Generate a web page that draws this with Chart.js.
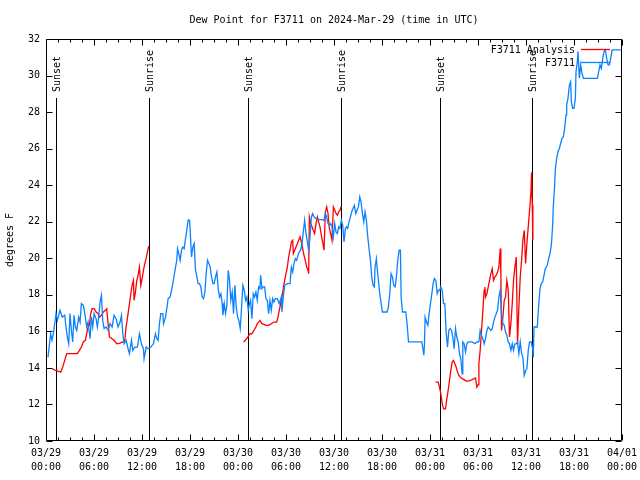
<!DOCTYPE html>
<html>
<head>
<meta charset="utf-8">
<script src="https://cdn.jsdelivr.net/npm/chart.js@4"></script>
<style>
body { margin: 0; background: #fff; }
</style>
</head>
<body>
<canvas id="myChart" width="640" height="480"></canvas>
<script>
// x values are hours since 2024-03-29 00:00 UTC
const tickDates = ['03/29', '03/29', '03/29', '03/29', '03/30', '03/30', '03/30', '03/30',
                   '03/31', '03/31', '03/31', '03/31', '04/01'];
const tickTimes = ['00:00', '06:00', '12:00', '18:00', '00:00', '06:00', '12:00', '18:00',
                   '00:00', '06:00', '12:00', '18:00', '00:00'];

const sunHours = [1.2, 12.9, 25.2, 36.85, 49.2, 60.8];
const sunLabels = ['Sunset', 'Sunrise', 'Sunset', 'Sunrise', 'Sunset', 'Sunrise'];

// F3711 observations
const obsHours = [
    0.25, 0.58, 0.75, 0.92, 1.25, 1.42, 1.75, 2.04, 2.34, 2.50, 2.67, 2.84, 3.00, 3.17, 3.34, 3.50,
    3.67, 3.84, 4.09, 4.26, 4.42, 4.67, 4.92, 5.09, 5.26, 5.51, 5.67, 5.84, 6.01, 6.26, 6.42, 6.59,
    6.76, 6.93, 7.09, 7.26, 7.51, 7.76, 8.01, 8.26, 8.51, 8.76, 9.01, 9.26, 9.43, 9.60, 9.76, 10.01,
    10.26, 10.43, 10.68, 10.85, 11.10, 11.43, 11.68, 11.93, 12.18, 12.26, 12.52, 12.77, 13.10, 13.43,
    13.68, 13.85, 14.02, 14.18, 14.35, 14.60, 14.69, 14.94, 15.10, 15.27, 15.52, 15.69, 15.85, 16.02,
    16.19, 16.35, 16.44, 16.60, 16.77, 16.94, 17.10, 17.27, 17.44, 17.60, 17.77, 17.94, 18.02, 18.19,
    18.36, 18.52, 18.69, 18.86, 19.02, 19.19, 19.36, 19.52, 19.69, 19.86, 20.02, 20.19, 20.36, 20.52,
    20.69, 20.86, 21.02, 21.19, 21.36, 21.52, 21.69, 21.86, 22.02, 22.11, 22.28, 22.44, 22.61, 22.78,
    22.94, 23.11, 23.28, 23.44, 23.61, 23.78, 23.95, 24.11, 24.28, 24.45, 24.61, 24.78, 24.95, 25.11,
    25.28, 25.45, 25.57, 25.74, 25.91, 26.08, 26.24, 26.41, 26.58, 26.74, 26.83, 26.99, 27.16, 27.33,
    27.49, 27.66, 27.83, 27.99, 28.16, 28.33, 28.49, 28.66, 28.91, 29.16, 29.41, 29.49, 29.66, 29.83,
    30.17, 30.50, 30.67, 30.83, 31.00, 31.17, 31.33, 31.50, 31.66, 31.83, 32.00, 32.16, 32.33, 32.50,
    32.67, 32.83, 33.00, 33.17, 33.33, 33.50, 33.75, 34.08, 34.50, 34.75, 34.92, 35.08, 35.25, 35.42,
    35.58, 35.75, 35.92, 36.09, 36.25, 36.42, 36.59, 36.75, 36.92, 37.09, 37.25, 37.42, 37.55, 37.71,
    37.88, 38.05, 38.21, 38.38, 38.55, 38.72, 38.88, 39.05, 39.22, 39.38, 39.55, 39.72, 39.88, 40.05,
    40.22, 40.38, 40.55, 40.72, 40.88, 41.05, 41.13, 41.30, 41.38, 41.55, 41.72, 41.89, 42.05, 42.63,
    42.80, 42.97, 43.13, 43.30, 43.47, 43.64, 43.80, 43.97, 44.14, 44.30, 44.39, 44.56, 44.97, 45.14,
    45.31, 46.98, 47.14, 47.23, 47.31, 47.39, 47.56, 47.73, 47.89, 48.06, 48.23, 48.39, 48.56, 48.73,
    48.90, 49.06, 49.23, 49.35, 49.52, 49.69, 49.85, 50.02, 50.19, 50.35, 50.52, 50.69, 50.85, 51.02,
    51.19, 51.35, 51.52, 51.69, 51.85, 52.02, 52.10, 52.27, 52.44, 52.60, 52.77, 53.27, 53.61, 53.86,
    54.11, 54.27, 54.44, 54.61, 54.77, 54.94, 55.11, 55.28, 55.44, 55.61, 55.78, 55.94, 56.11, 56.28,
    56.44, 56.61, 56.78, 56.94, 57.11, 57.28, 57.44, 57.61, 57.78, 57.94, 58.11, 58.28, 58.44, 58.61,
    58.78, 58.94, 59.11, 59.28, 59.45, 59.61, 59.78, 59.95, 60.11, 60.28, 60.45, 60.65, 60.83, 60.91,
    61.00, 61.41, 61.58, 61.75, 61.91, 62.08, 62.25, 62.41, 62.66, 62.83, 63.00, 63.17, 63.33, 63.42,
    63.58, 63.67, 63.83, 64.00, 64.17, 64.33, 64.50, 64.67, 64.83, 65.00, 65.08, 65.25, 65.42, 65.58,
    65.67, 65.83, 66.00, 66.17, 66.25, 66.42, 66.50, 66.67, 66.83, 67.00, 67.17, 68.92, 69.09, 69.25,
    69.42, 69.59, 69.76, 69.92, 70.09, 70.26, 70.43, 70.59, 70.76, 71.84
];
const obsValues = [
    14.59, 15.87, 15.51, 15.87, 16.97, 16.60, 17.15, 16.78, 16.88, 16.24, 15.69, 15.32, 16.97, 16.05, 15.42, 16.88,
    16.24, 16.05, 16.78, 16.51, 17.52, 17.42, 16.78, 16.24, 16.51, 15.60, 16.78, 16.24, 16.97, 16.69, 16.24, 16.78,
    17.61, 17.97, 16.60, 16.15, 16.24, 16.05, 16.42, 16.24, 16.88, 16.69, 16.24, 16.51, 16.88, 15.87, 15.32, 15.51,
    15.05, 14.78, 15.51, 14.96, 15.14, 15.14, 15.87, 15.32, 15.05, 14.50, 15.14, 15.05, 15.14, 15.32,
    15.87, 15.60, 15.51, 16.42, 16.97, 16.97, 16.42, 16.78, 17.24, 17.79, 17.88, 18.25, 18.61, 19.07,
    19.52, 19.89, 20.53, 20.26, 19.89, 20.44, 20.62, 20.53, 21.08, 21.53, 22.08, 22.08, 21.53, 20.07,
    20.62, 20.80, 19.34, 18.98, 18.61, 18.61, 18.43, 17.88, 17.79, 18.15, 19.16, 19.89, 19.71, 19.52,
    18.98, 18.61, 18.61, 18.98, 19.25, 18.34, 17.88, 18.06, 17.52, 16.88, 17.52, 16.97, 17.42, 19.34,
    18.79, 17.70, 18.15, 16.97, 18.52, 17.33, 16.78, 16.60, 16.15, 17.33, 18.52, 18.25, 17.70, 17.88,
    17.15, 17.52, 17.70, 16.69, 18.06, 17.88, 18.15, 17.70, 18.43, 18.34, 19.07, 18.34, 18.43, 18.43,
    17.79, 17.70, 16.97, 17.70, 17.15, 17.79, 17.61, 17.79, 17.79, 17.52, 17.88, 17.06, 17.88, 18.52,
    18.61, 18.61, 19.52, 19.25, 19.71, 19.98, 19.89, 20.16, 20.35, 20.44, 20.80, 21.44, 22.08, 21.35,
    20.89, 20.44, 21.17, 22.26, 22.45, 22.26, 22.17, 22.12, 22.12, 22.08, 22.45, 22.26, 21.90, 21.81,
    21.90, 21.72, 21.17, 21.90, 21.44, 21.35, 21.72, 21.63, 22.08, 21.81, 20.89, 21.63, 21.72, 21.63,
    21.99, 22.26, 22.54, 22.72, 22.90, 22.45, 22.63, 22.81, 23.36, 23.09, 22.45, 21.99, 22.54, 22.08,
    21.17, 20.53, 19.89, 18.98, 18.52, 18.43, 19.52, 19.98, 19.52, 18.79, 18.06, 17.52, 17.06, 17.06,
    17.33, 18.06, 19.16, 18.98, 18.52, 18.43, 18.98, 19.89, 20.44, 20.44, 17.88, 17.06, 17.06, 16.42,
    15.42, 15.42, 14.98, 14.70, 15.32, 16.78, 16.51, 16.33, 16.97, 17.52, 18.06, 18.61, 18.89, 18.79,
    18.06, 18.25, 18.25, 18.43, 18.25, 17.52, 17.52, 15.96, 15.14, 16.05, 16.15, 16.05, 15.69, 15.05,
    16.15, 15.69, 15.42, 14.78, 14.50, 13.68, 15.42, 15.32, 14.87, 15.32, 15.42, 15.42, 15.32, 15.42,
    15.42, 16.05, 15.78, 15.60, 15.32, 15.60, 16.05, 16.24, 16.15, 16.05, 16.15, 16.51, 16.78, 16.97,
    17.15, 17.88, 18.25, 16.97, 16.42, 16.33, 15.96, 15.78, 15.42, 15.32, 14.96, 15.32, 14.96, 15.32,
    15.32, 15.42, 14.78, 15.42, 14.78, 14.59, 13.60, 13.86, 13.95, 14.96, 15.42, 15.42, 15.05, 14.59,
    16.24, 16.24, 17.42, 18.34, 18.61, 18.70, 19.07, 19.43, 19.62, 19.98, 20.26, 20.71, 21.81, 22.90,
    24.00, 24.91, 25.46, 25.83, 26.01, 26.28, 26.56, 26.65, 27.11, 27.84, 28.38, 28.75, 29.48, 29.66,
    28.57, 28.20, 28.20, 28.75, 30.21, 30.76, 31.31, 29.85, 30.58, 30.12, 29.85, 29.85, 30.21, 30.58,
    30.39, 30.94, 31.31, 31.40, 30.94, 30.58, 30.58, 30.94, 31.40, 31.40
];

// F3711 Analysis (null = gap)
const anaHours = [
    0.79, 1.21, 1.84, 2.09, 2.34, 2.59, 3.92, 4.17, 4.42, 4.67, 4.92, 5.09, 5.26, 5.42, 5.59, 5.76,
    6.01, 6.26, 6.51, 6.67, 6.93, 7.18, 7.43, 7.59, 7.76, 7.93, 8.26, 8.59, 8.84, 9.26, 9.60, 9.85,
    10.01, 10.26, 10.43, 10.60, 10.76, 10.93, 11.01, 11.18, 11.35, 11.51, 11.68, 11.85, 12.01, 12.18,
    12.35, 12.51, 12.68, 12.85, 18.8,
    24.70, 24.91, 25.24, 25.49, 25.74, 25.99, 26.24, 26.41, 26.58, 26.74, 26.99, 27.24, 27.49, 27.83,
    28.16, 28.49, 28.83, 29.00, 29.16, 29.33, 29.49, 29.66, 29.83, 30.00, 30.17, 30.33, 30.50, 30.67,
    30.83, 30.92, 31.08, 31.25, 31.42, 31.58, 31.75, 31.92, 32.08, 32.25, 32.41, 32.58, 32.75, 32.83,
    32.92, 33.08, 33.25, 33.41, 33.58, 33.75, 33.92, 34.08, 34.25, 34.42, 34.58, 34.75, 34.92, 35.08,
    35.25, 35.42, 35.58, 35.75, 35.92, 36.09, 36.25, 36.42, 36.59, 36.75, 36.88, 42.0,
    48.69, 49.02, 49.19, 49.35, 49.52, 49.69, 49.94, 50.10, 50.27, 50.44, 50.60, 50.77, 50.94, 51.11,
    51.27, 51.44, 51.61, 51.77, 52.02, 52.27, 52.52, 52.77, 53.02, 53.27, 53.52, 53.69, 53.86, 54.02,
    54.11, 54.27, 54.44, 54.61, 54.77, 54.86, 54.94, 55.11, 55.28, 55.44, 55.61, 55.78, 55.94, 56.11,
    56.28, 56.44, 56.61, 56.78, 56.86, 56.94, 57.11, 57.28, 57.44, 57.61, 57.78, 57.94, 58.11, 58.28,
    58.44, 58.61, 58.78, 58.94, 59.11, 59.28, 59.45, 59.61, 59.78, 59.95, 60.11, 60.28, 60.45, 60.61,
    60.70, 60.78, 60.86
];
const anaValues = [
    13.95, 13.86, 13.77, 14.05, 14.41, 14.78, 14.78, 14.96, 15.14, 15.42, 15.51, 15.87, 16.24, 16.33, 16.97, 17.24,
    17.24, 17.06, 16.97, 16.78, 16.88, 17.06, 17.15, 17.24, 16.42, 15.69, 15.60, 15.47, 15.32, 15.36, 15.42, 15.51,
    16.24, 16.97, 17.52, 18.06, 18.52, 18.79, 17.70, 18.15, 18.79, 19.07, 19.52, 18.52, 18.88, 19.34,
    19.71, 19.98, 20.35, 20.66, null,
    15.42, 15.51, 15.69, 15.87, 15.87, 16.05, 16.24, 16.42, 16.51, 16.60, 16.42, 16.38, 16.33, 16.33,
    16.42, 16.51, 16.51, 16.78, 17.15, 17.52, 17.88, 18.34, 18.79, 19.16, 19.52, 20.07, 20.44, 20.89,
    20.98, 20.26, 20.44, 20.62, 20.80, 20.98, 21.17, 20.89, 20.53, 20.16, 19.89, 19.52, 19.34, 19.16,
    22.26, 21.90, 21.72, 21.53, 21.35, 21.90, 22.26, 21.99, 21.72, 21.26, 20.89, 20.44, 22.54, 22.81,
    22.45, 21.63, 21.35, 20.98, 22.81, 22.63, 22.45, 22.36, 22.54, 22.63, 22.83, null,
    13.22, 13.22, 12.95, 12.59, 12.04, 11.76, 11.76, 12.31, 12.77, 13.32, 13.86, 14.32, 14.41, 14.23,
    14.05, 13.77, 13.59, 13.50, 13.41, 13.36, 13.28, 13.28, 13.32, 13.36, 13.41, 13.46, 12.95, 13.08,
    14.23, 14.96, 16.05, 17.15, 18.25, 18.43, 17.88, 18.06, 18.43, 18.79, 19.16, 19.43, 18.79, 18.98,
    19.07, 19.25, 19.52, 20.53, 18.98, 16.05, 16.78, 17.70, 17.88, 18.79, 18.25, 15.69, 16.42, 17.52,
    18.79, 19.52, 20.07, 15.32, 17.33, 18.98, 19.89, 20.99, 21.53, 19.71, 20.80, 21.72, 22.63, 23.54,
    24.70, 22.90, 20.99
];

const blue = 'rgb(10, 130, 255)';
const red = 'rgb(255, 0, 0)';
const monoFont = '"DejaVu Sans Mono", "Liberation Mono", monospace';

const obsData = obsHours.map((h, i) => ({ x: h, y: obsValues[i] }));
const anaData = anaHours.map((h, i) => ({ x: h, y: anaValues[i] }));

// gnuplot-style frame: inward ticks, sunrise/sunset markers, legend
const frame = {
    id: 'frame',
    beforeDatasetsDraw(chart) {
        const { ctx, chartArea: a, scales: { x } } = chart;
        ctx.save();
        ctx.strokeStyle = '#000';
        ctx.fillStyle = '#000';
        ctx.lineWidth = 1;
        ctx.font = '10px ' + monoFont;
        sunHours.forEach((h, i) => {
            const px = Math.round(x.getPixelForValue(h)) + 0.5;
            ctx.beginPath();
            ctx.moveTo(px, a.top + 59);
            ctx.lineTo(px, a.bottom);
            ctx.stroke();
            ctx.save();
            ctx.translate(px + 1, a.top + 53);
            ctx.rotate(-Math.PI / 2);
            ctx.textAlign = 'left';
            ctx.textBaseline = 'middle';
            ctx.fillText(sunLabels[i], 0, 0);
            ctx.restore();
        });
        ctx.restore();
    },
    afterDatasetsDraw(chart) {
        const { ctx, chartArea: a, scales: { x, y } } = chart;
        const L = Math.round(a.left) + 0.5, R = Math.round(a.right) - 0.5;
        const T = Math.round(a.top) + 0.5, B = Math.round(a.bottom) - 0.5;
        ctx.save();
        ctx.strokeStyle = '#000';
        ctx.lineWidth = 1;
        ctx.beginPath();
        ctx.rect(L, T, R - L, B - T);
        // x ticks, major every 6 h and minor every 1.5 h
        for (let h = 0; h <= 72; h += 1.5) {
            const px = Math.round(x.getPixelForValue(h)) + 0.5;
            const len = h % 6 === 0 ? 6 : 3;
            ctx.moveTo(px, B); ctx.lineTo(px, B - len);
            ctx.moveTo(px, T); ctx.lineTo(px, T + len);
        }
        y.ticks.forEach(t => {
            const py = Math.round(y.getPixelForValue(t.value)) + 0.5;
            ctx.moveTo(L, py); ctx.lineTo(L + 6, py);
            ctx.moveTo(R, py); ctx.lineTo(R - 6, py);
        });
        ctx.stroke();

        // legend
        ctx.font = '10px ' + monoFont;
        ctx.fillStyle = '#000';
        ctx.textAlign = 'right';
        ctx.textBaseline = 'middle';
        const tx = a.right - 47;
        [['F3711 Analysis', red, 11], ['F3711', blue, 24]].forEach(([label, color, dy]) => {
            ctx.fillText(label, tx, a.top + dy);
            ctx.strokeStyle = color;
            ctx.lineWidth = 1.3;
            ctx.beginPath();
            ctx.moveTo(a.right - 41, a.top + dy - 0.5);
            ctx.lineTo(a.right - 12, a.top + dy - 0.5);
            ctx.stroke();
        });
        ctx.restore();
    }
};

const config = {
    type: 'line',
    data: {
        datasets: [{
            label: 'F3711',
            data: obsData,
            borderColor: blue,
            borderWidth: 1.3,
            pointRadius: 0,
            tension: 0,
            order: 0
        }, {
            label: 'F3711 Analysis',
            data: anaData,
            borderColor: red,
            borderWidth: 1.3,
            pointRadius: 0,
            tension: 0,
            spanGaps: false,
            order: 1
        }]
    },
    options: {
        responsive: false,
        animation: false,
        layout: { padding: { left: 0, right: 18, top: 0, bottom: 0 } },
        plugins: {
            legend: { display: false },
            tooltip: { enabled: false },
            title: {
                display: true,
                fullSize: false,
                text: 'Dew Point for F3711 on 2024-Mar-29 (time in UTC)',
                color: '#000',
                font: { family: monoFont, size: 10, weight: 'normal' },
                padding: { top: 14, bottom: 13 }
            }
        },
        scales: {
            x: {
                type: 'linear',
                min: 0,
                max: 72,
                grid: { display: false, drawTicks: false },
                border: { display: false },
                afterFit: s => {
                    s.height = 39;
                    s.paddingLeft = 0;
                    s.paddingRight = 0;
                },
                ticks: {
                    stepSize: 6,
                    autoSkip: false,
                    maxRotation: 0,
                    padding: 5,
                    color: '#000',
                    font: { family: monoFont, size: 10, lineHeight: 1.4 },
                    callback: v => {
                        const i = Math.round(v / 6);
                        return [tickDates[i], tickTimes[i]];
                    }
                }
            },
            y: {
                min: 10,
                max: 32,
                grid: { display: false, drawTicks: false },
                border: { display: false },
                afterFit: s => { s.width = 46; },
                title: {
                    display: true,
                    text: 'degrees F',
                    color: '#000',
                    font: { family: monoFont, size: 10 },
                    padding: { top: 4, bottom: 0 }
                },
                ticks: {
                    stepSize: 2,
                    padding: 6,
                    color: '#000',
                    font: { family: monoFont, size: 10 }
                }
            }
        }
    },
    plugins: [frame]
};

const chart = new Chart(document.getElementById('myChart'), config);
</script>
</body>
</html>
